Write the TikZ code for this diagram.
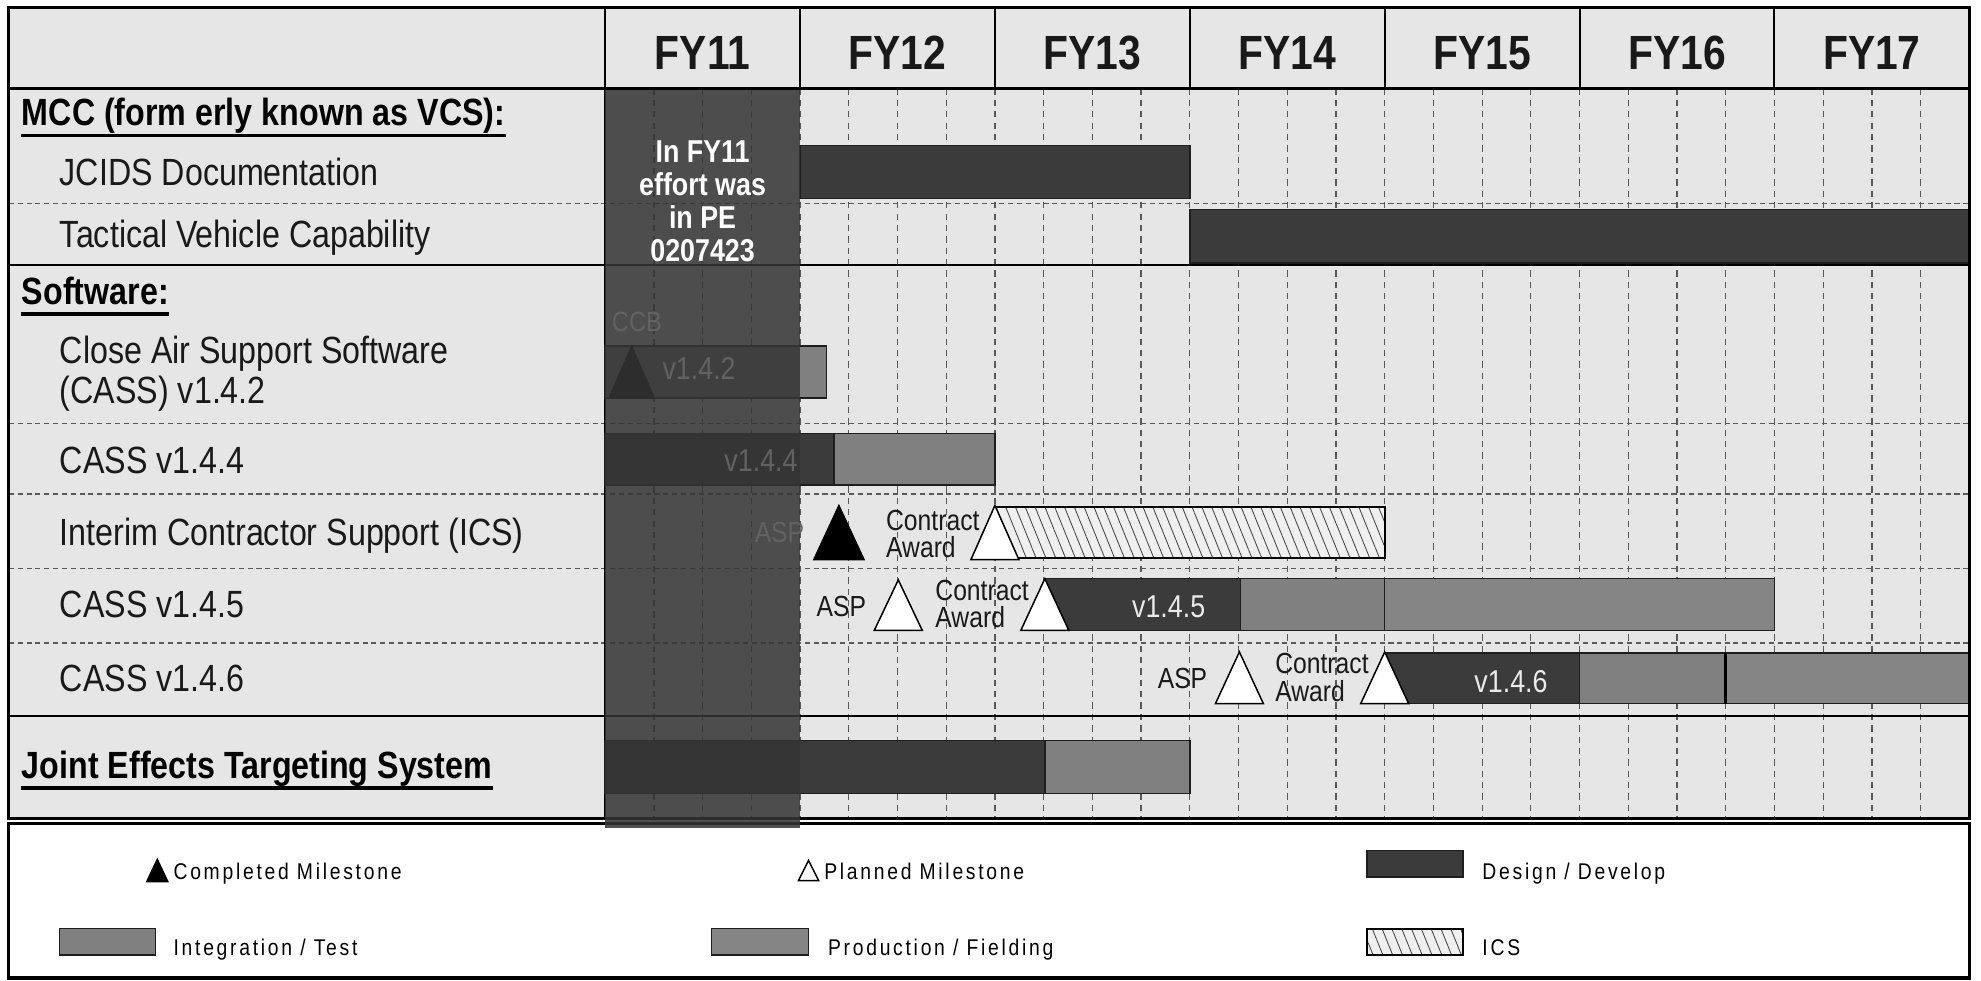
\documentclass[tikz,border=0pt]{standalone}
\usepackage{fontspec}
\setmainfont{Liberation Sans}[FakeStretch=0.85]
\newfontfamily\legfont{Liberation Sans}[FakeStretch=0.85,LetterSpace=12]
\usetikzlibrary{patterns.meta}
\definecolor{chartbg}{HTML}{E6E6E6}
\definecolor{darkbar}{HTML}{3B3B3B}
\definecolor{midbar}{HTML}{808080}
\definecolor{prodbar}{HTML}{858585}
\definecolor{ovl}{HTML}{353535}
\definecolor{gridc}{HTML}{5A5A5A}
\definecolor{edgec}{HTML}{1E1E1E}
\definecolor{faintc}{HTML}{626262}
\newcommand{\mstone}[5]{\draw[#1] ({#2-#5},#4) -- ({#2+#5},#4) -- (#2,#3) -- cycle;}
\begin{document}
\begin{tikzpicture}[x=0.5pt,y=-0.5pt,
  lbl/.style={anchor=base west,inner sep=0pt,font=\fontsize{15}{18}\selectfont,text=black!90},
  sect/.style={anchor=base west,inner sep=0pt,font=\fontsize{15}{18}\selectfont\bfseries},
  fy/.style={anchor=base,inner sep=0pt,font=\fontsize{19}{22}\selectfont\bfseries,text=black!90},
  small/.style={anchor=base west,inner sep=0pt,font=\fontsize{11.5}{13}\selectfont,text=black!90},
  bartxt/.style={anchor=base,inner sep=0pt,font=\fontsize{12.5}{14}\selectfont,text=white!92!black},
  ovtxt/.style={anchor=base,inner sep=0pt,font=\fontsize{12.5}{14}\selectfont\bfseries,text=white},
  faint/.style={anchor=base west,inner sep=0pt,text=faintc},
  leg/.style={anchor=base west,inner sep=0pt,font=\legfont\fontsize{9}{11}\selectfont},
  ddbar/.style={fill=darkbar,draw=edgec,line width=0.6pt},
  itbar/.style={fill=midbar,draw=edgec,line width=0.6pt},
  pfbar/.style={fill=prodbar,draw=edgec,line width=0.6pt},
  icsbar/.style={draw=black,line width=0.8pt,preaction={fill=white!94!black},pattern={Lines[angle=-68,distance=3.6pt,line width=0.35pt]},pattern color=black!70},
  done/.style={fill=black,draw=black,line width=0.5pt},
  plan/.style={fill=white,draw=black,line width=0.6pt},
  vgrid/.style={draw=gridc,line width=0.5pt,dash pattern=on 2.5pt off 2pt},
  hgrid/.style={draw=gridc,line width=0.5pt,dash pattern=on 2pt off 1.5pt},
  frame/.style={draw=black,line width=1.3pt},
  rule/.style={draw=black,line width=0.8pt},
  uline/.style={draw=black,line width=1.3pt}
]
\useasboundingbox (0,0) rectangle (1568,776);
\fill[white] (0,0) rectangle (1568,776);
% chart background
\fill[chartbg] (7,6) rectangle (1559,648);
% grid
\foreach \k in {1,...,27} {\draw[vgrid] ({479+38.5625*\k},70) -- ({479+38.5625*\k},648);}
\foreach \yy in {161,335,391,450,509} {\draw[hgrid] (7,\yy) -- (1559,\yy);}
% solid rules
\draw[rule] (7,210) -- (1559,210);
\draw[rule] (7,567) -- (1559,567);
\draw[rule] (479,6) -- (479,648);
\foreach \xx in {633.25,787.5,941.75,1096,1250.25,1404.5} {\draw[rule] (\xx,6) -- (\xx,70);}
% header texts
\node[fy] (fy11) at (556.1,55) {FY11};
\node[fy] (fy12) at (710.4,55) {FY12};
\node[fy] (fy13) at (864.6,55) {FY13};
\node[fy] (fy14) at (1018.9,55) {FY14};
\node[fy] (fy15) at (1173.1,55) {FY15};
\node[fy] (fy16) at (1327.4,55) {FY16};
\node[fy] (fy17) at (1481.6,55) {FY17};
% row labels
\node[sect] (mcc) at (17,99) {MCC (form erly known as VCS):};
\draw[uline] ([yshift=-4pt]mcc.base west) -- ([yshift=-4pt]mcc.base east);
\node[lbl] (jcids) at (47,147) {JCIDS Documentation};
\node[lbl] (tvc) at (47,196) {Tactical Vehicle Capability};
\node[sect] (sw) at (17,241) {Software:};
\draw[uline] ([yshift=-3.8pt]sw.base west) -- ([yshift=-3.8pt]sw.base east);
\node[lbl] (cassa) at (47,288) {Close Air Support Software};
\node[lbl] (cassb) at (47,319) {(CASS) v1.4.2};
\node[lbl] (c144) at (47,375) {CASS v1.4.4};
\node[lbl] (ics) at (47,432) {Interim Contractor Support (ICS)};
\node[lbl] (c145) at (47,489) {CASS v1.4.5};
\node[lbl] (c146) at (47,547) {CASS v1.4.6};
\node[sect] (jets) at (17,616) {Joint Effects Targeting System};
\draw[uline] ([yshift=-3.8pt]jets.base west) -- ([yshift=-3.8pt]jets.base east);
% bars
\draw[ddbar] (633.25,115) rectangle (941.75,157);
\draw[ddbar] (941.75,166) rectangle (1559,208);
\draw[itbar] (479,274) rectangle (654,315);
\draw[ddbar] (479,343) rectangle (660,384);
\draw[itbar] (660,343) rectangle (787.5,384);
\draw[icsbar] (787.5,401) rectangle (1096,442);
\draw[ddbar] (827,458) rectangle (982,499);
\draw[itbar] (982,458) rectangle (1096,499);
\draw[pfbar] (1096,458) rectangle (1404.5,499);
\draw[ddbar] (1096,517) rectangle (1250.25,557);
\draw[itbar] (1250.25,517) rectangle (1366,557);
\draw[pfbar] (1366,517) rectangle (1559,557);
\draw[black,line width=1.2pt] (1366,517) -- (1366,557);
\draw[ddbar] (479,586) rectangle (827,628);
\draw[itbar] (827,586) rectangle (941.75,628);
% milestones
\mstone{done}{500}{274}{315}{18}
\mstone{done}{664}{400}{443}{20}
\mstone{plan}{787.5}{400}{443}{19}
\mstone{plan}{711}{459}{499}{19}
\mstone{plan}{827}{458}{499}{19}
\mstone{plan}{981}{516}{557}{19}
\mstone{plan}{1096}{516}{557}{19}
% milestone labels
\node[small] (ca1) at (701,420) {Contract};
\node[small] (aw1) at (701,441) {Award};
\node[small] (asp2) at (646,488) {ASP};
\node[small] (ca2) at (740,475) {Contract};
\node[small] (aw2) at (740,497) {Award};
\node[small] (asp3) at (916,545) {ASP};
\node[small] (ca3) at (1009,533) {Contract};
\node[small] (aw3) at (1009,555) {Award};
\node[bartxt] (v145) at (925,489) {v1.4.5};
\node[bartxt] (v146) at (1196,548) {v1.4.6};
% frame and legend box
\draw[frame] (7,6) rectangle (1559,648);
\draw[frame,fill=white] (7,652) rectangle (1559,774);
% FY11 overlay
\fill[ovl,opacity=0.86] (479,70) rectangle (633.25,655);
\node[faint,font=\fontsize{11}{13}\selectfont] (ccb) at (484,262) {CCB};
\node[faint,font=\fontsize{12.5}{14}\selectfont] (v142) at (524,300) {v1.4.2};
\node[faint,font=\fontsize{12.5}{14}\selectfont] (v144) at (573,373) {v1.4.4};
\node[faint,font=\fontsize{11.5}{13}\selectfont] (asp1) at (597,429) {ASP};
\node[ovtxt] (ov1) at (556.1,129) {In FY11};
\node[ovtxt] (ov2) at (556.1,155) {effort was};
\node[ovtxt] (ov3) at (556.1,181) {in PE};
\node[ovtxt] (ov4) at (556.1,207) {0207423};
\draw[black,line width=1.3pt] (7,70) -- (1559,70);
% legend
\mstone{done}{124.5}{680}{698}{8.5}
\node[leg] (lg1) at (137,696) {Completed Milestone};
\mstone{plan}{640}{681}{697}{8}
\node[leg] (lg2) at (652,696) {Planned Milestone};
\draw[ddbar] (1082,673) rectangle (1158,694);
\node[leg] (lg3) at (1173,696) {Design / Develop};
\draw[itbar] (47,735) rectangle (123,756);
\node[leg] (lg4) at (137,756) {Integration / Test};
\draw[pfbar] (563,735) rectangle (640,756);
\node[leg] (lg5) at (655,756) {Production / Fielding};
\draw[icsbar] (1082,735) rectangle (1158,756);
\node[leg] (lg6) at (1173,756) {ICS};
\end{tikzpicture}
\end{document}
